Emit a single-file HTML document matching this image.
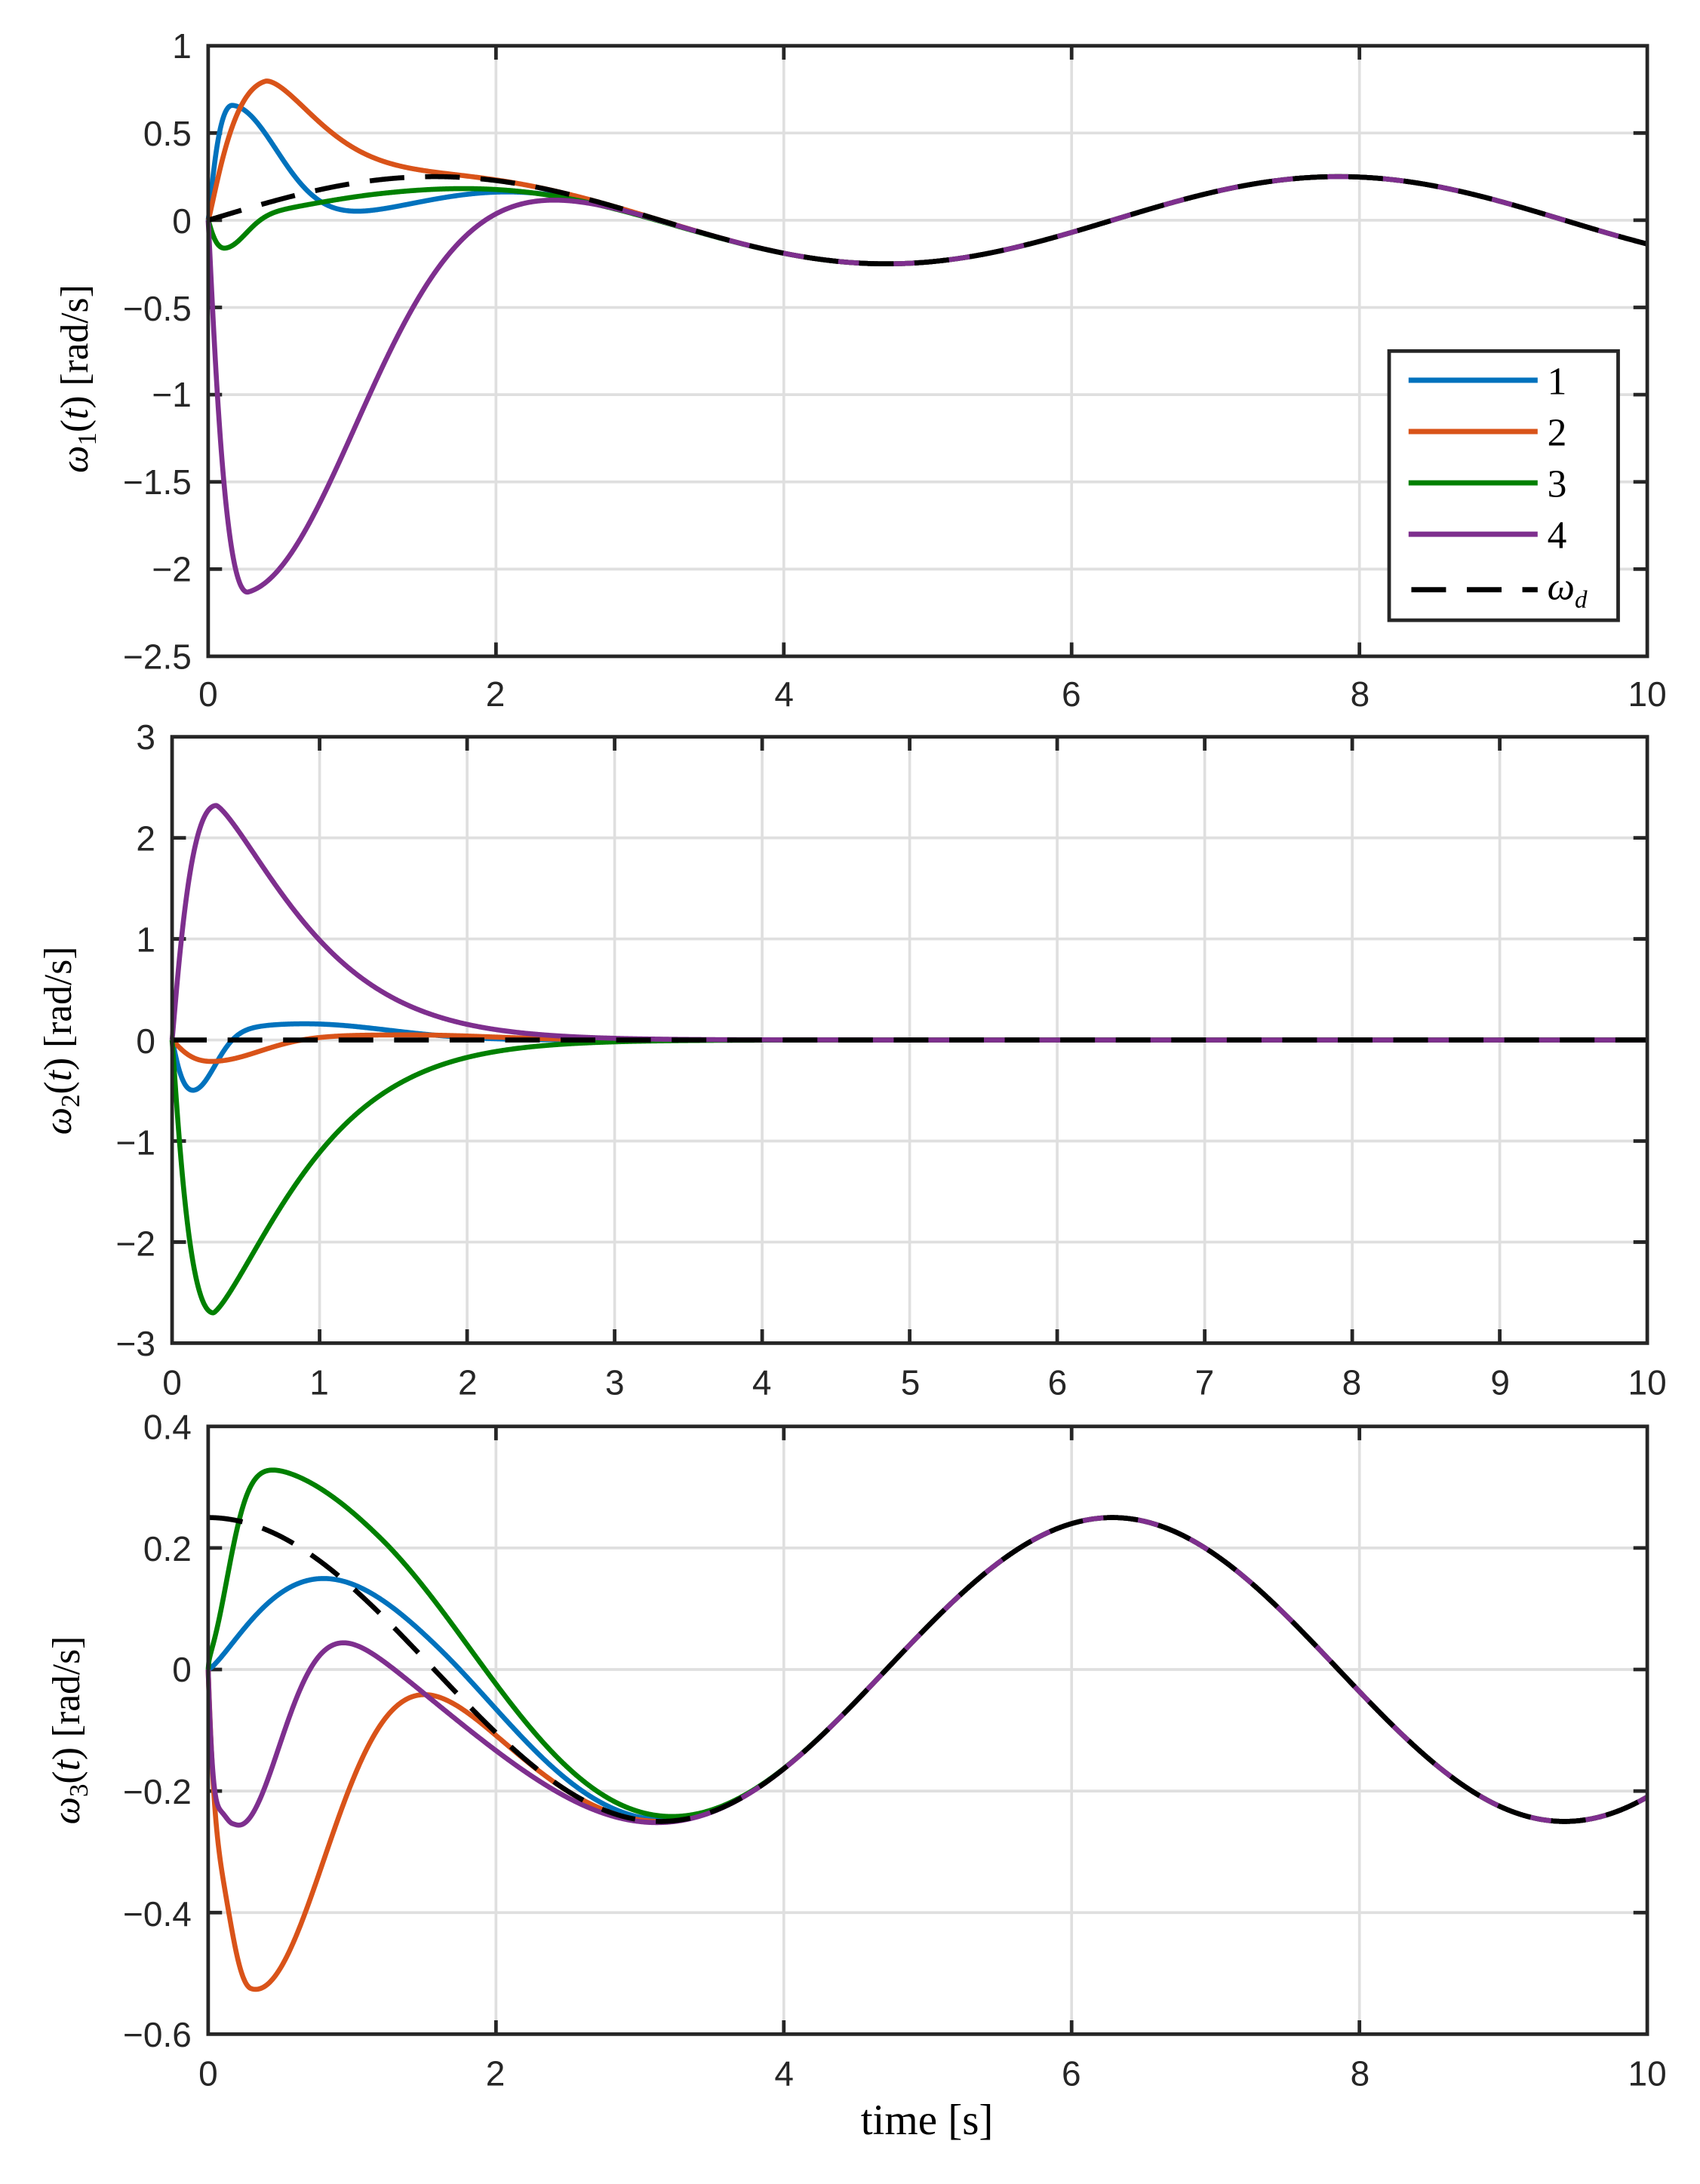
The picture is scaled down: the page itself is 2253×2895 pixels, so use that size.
<!DOCTYPE html>
<html><head><meta charset="utf-8"><style>
html,body{margin:0;padding:0;background:#fff;}
svg{display:block;}
.tk{font-family:"Liberation Sans",sans-serif;font-size:25px;fill:#262626;}
.sr{font-family:"Liberation Serif",serif;fill:#000;}
</style></head><body>
<svg id="s" xmlns="http://www.w3.org/2000/svg" width="2253" height="2895" viewBox="0 0 1225 1574" preserveAspectRatio="none">
<rect width="1225" height="1574" fill="#fff"/>
<g id="g"></g>
<g class="tk" text-anchor="end">
<text x="138" y="42">1</text><text x="138" y="105">0.5</text><text x="138" y="168">0</text>
<text x="138" y="231">−0.5</text><text x="138" y="293">−1</text><text x="138" y="356">−1.5</text>
<text x="138" y="419">−2</text><text x="138" y="482">−2.5</text>
</g>
<g class="tk" text-anchor="middle">
<text x="150" y="509">0</text><text x="357" y="509">2</text><text x="565" y="509">4</text>
<text x="772" y="509">6</text><text x="980" y="509">8</text><text x="1187" y="509">10</text>
</g>
<g class="tk" text-anchor="end">
<text x="112" y="540">3</text><text x="112" y="613">2</text><text x="112" y="686">1</text>
<text x="112" y="759">0</text><text x="112" y="832">−1</text><text x="112" y="905">−2</text><text x="112" y="977">−3</text>
</g>
<g class="tk" text-anchor="middle">
<text x="124" y="1005">0</text><text x="230" y="1005">1</text><text x="337" y="1005">2</text>
<text x="443" y="1005">3</text><text x="549" y="1005">4</text><text x="656" y="1005">5</text>
<text x="762" y="1005">6</text><text x="868" y="1005">7</text><text x="974" y="1005">8</text>
<text x="1081" y="1005">9</text><text x="1187" y="1005">10</text>
</g>
<g class="tk" text-anchor="end">
<text x="138" y="1037">0.4</text><text x="138" y="1125">0.2</text><text x="138" y="1212">0</text>
<text x="138" y="1300">−0.2</text><text x="138" y="1388">−0.4</text><text x="138" y="1475">−0.6</text>
</g>
<g class="tk" text-anchor="middle">
<text x="150" y="1503">0</text><text x="357" y="1503">2</text><text x="565" y="1503">4</text>
<text x="772" y="1503">6</text><text x="980" y="1503">8</text><text x="1187" y="1503">10</text>
</g>
<text class="sr" x="668" y="1538" font-size="31" text-anchor="middle">time [s]</text>
<text class="sr" font-size="28" text-anchor="middle" transform="translate(63,273) rotate(-90)"><tspan font-style="italic">ω</tspan><tspan font-size="19" dy="6">1</tspan><tspan dy="-6">(</tspan><tspan font-style="italic">t</tspan>) [rad/s]</text>
<text class="sr" font-size="28" text-anchor="middle" transform="translate(51,750) rotate(-90)"><tspan font-style="italic">ω</tspan><tspan font-size="19" dy="6">2</tspan><tspan dy="-6">(</tspan><tspan font-style="italic">t</tspan>) [rad/s]</text>
<text class="sr" font-size="28" text-anchor="middle" transform="translate(57,1247) rotate(-90)"><tspan font-style="italic">ω</tspan><tspan font-size="19" dy="6">3</tspan><tspan dy="-6">(</tspan><tspan font-style="italic">t</tspan>) [rad/s]</text>
<rect x="1001" y="253" width="165" height="194" fill="#fff" stroke="#262626" stroke-width="2.6"/>
<line x1="1015" y1="274" x2="1108" y2="274" stroke="#0072BD" stroke-width="3.8"/>
<line x1="1015" y1="311" x2="1108" y2="311" stroke="#D95319" stroke-width="3.8"/>
<line x1="1015" y1="348" x2="1108" y2="348" stroke="#008000" stroke-width="3.8"/>
<line x1="1015" y1="385" x2="1108" y2="385" stroke="#7E2F8E" stroke-width="3.8"/>
<line x1="1017" y1="425" x2="1108" y2="425" stroke="#000" stroke-width="3.8" stroke-dasharray="25,15"/>
<g class="sr" font-size="28">
<text x="1115" y="284">1</text><text x="1115" y="321">2</text><text x="1115" y="358">3</text><text x="1115" y="395">4</text>
<text x="1115" y="432" font-style="italic">ω<tspan font-size="18" dy="6">d</tspan></text>
</g>
</svg>
<script>
(function(){
var NS="http://www.w3.org/2000/svg",g=document.getElementById("g");
function el(n,a){var e=document.createElementNS(NS,n);for(var k in a)e.setAttribute(k,a[k]);g.appendChild(e);return e;}
function b(t,tp){return (t/tp)*Math.exp(1-t/tp);}
function bump(t,tp,pl,w,q){q=q||2;if(t<=tp)return Math.pow(b(t,tp),pl);return Math.exp(-Math.pow((t-tp)/w,q));}
var C=["#0072BD","#D95319","#008000","#7E2F8E"];
var axes=[
{x0:150,x1:1187,y0:33,y1:473,ymin:-2.5,ymax:1,xt:2,yt:0.5,
 wd:function(t){return 0.25*Math.sin(t);},
 e:[function(t){return 0.66*bump(t,.17,1.2,.45)-0.18*bump(t,1.0,1.5,1.0);},
    function(t){return 0.70*bump(t,.4,1.2,.53,1.5);},
    function(t){return -0.17*bump(t,.12,1.2,.2)-0.08*bump(t,1.2,1,1.2);},
    function(t){return -2.2*bump(t,.28,1.1,1.1);}]},
{x0:124,x1:1187,y0:531,y1:968,ymin:-3,ymax:3,xt:1,yt:1,
 wd:function(t){return 0;},
 e:[function(t){return -0.52*bump(t,.15,1.2,.2)+0.16*bump(t,.9,2,.8);},
    function(t){return -0.22*bump(t,.28,1.2,.45)+0.05*bump(t,1.6,2,.8);},
    function(t){return -2.7*bump(t,.28,1.1,.79,1.3);},
    function(t){return 2.32*bump(t,.3,1.1,.79,1.3);}]},
{x0:150,x1:1187,y0:1028,y1:1466,ymin:-0.6,ymax:0.4,xt:2,yt:0.2,
 wd:function(t){return 0.25*Math.cos(t);},
 e:[function(t){return -0.25*Math.exp(-Math.pow(t/0.6,1.3))+0.05*bump(t,1.6,2,0.9);},
    function(t){return -0.25*Math.exp(-Math.pow(t/0.1,2))-0.764*bump(t,.3,1,.75);},
    function(t){return -0.25*Math.exp(-Math.pow(t/0.2,2))+0.125*bump(t,1.2,0.5,1.2);},
    function(t){return -0.25*Math.exp(-Math.pow(t/0.08,2))-0.46*bump(t,.17,1,.45,2)-0.08*bump(t,.8,1,1.2,2);}]}
];
axes.forEach(function(a){
 function X(t){return a.x0+(a.x1-a.x0)*t/10;}
 function Y(v){return a.y1-(a.y1-a.y0)*(v-a.ymin)/(a.ymax-a.ymin);}
 var i,t,v;
 for(t=a.xt;t<10-1e-9;t+=a.xt){el("line",{x1:X(t),x2:X(t),y1:a.y0,y2:a.y1,stroke:"#dfdfdf","stroke-width":2});}
 for(v=a.ymin+a.yt;v<a.ymax-1e-9;v+=a.yt){el("line",{x1:a.x0,x2:a.x1,y1:Y(v),y2:Y(v),stroke:"#dfdfdf","stroke-width":2});}
 for(t=a.xt;t<10-1e-9;t+=a.xt){el("line",{x1:X(t),x2:X(t),y1:a.y1,y2:a.y1-10,stroke:"#262626","stroke-width":2.6});el("line",{x1:X(t),x2:X(t),y1:a.y0,y2:a.y0+10,stroke:"#262626","stroke-width":2.6});}
 for(v=a.ymin+a.yt;v<a.ymax-1e-9;v+=a.yt){el("line",{x1:a.x0,x2:a.x0+10,y1:Y(v),y2:Y(v),stroke:"#262626","stroke-width":2.6});el("line",{x1:a.x1,x2:a.x1-10,y1:Y(v),y2:Y(v),stroke:"#262626","stroke-width":2.6});}
 for(i=0;i<4;i++){var d="";for(var k=0;k<=2000;k++){t=k*0.005;v=a.wd(t)+a.e[i](t);d+=(k?"L":"M")+X(t).toFixed(2)+","+Y(v).toFixed(2);}
  el("path",{d:d,fill:"none",stroke:C[i],"stroke-width":3.6,"stroke-linejoin":"round"});}
 var d2="";for(var k2=0;k2<=2000;k2++){t=k2*0.005;d2+=(k2?"L":"M")+X(t).toFixed(2)+","+Y(a.wd(t)).toFixed(2);}
 el("path",{d:d2,fill:"none",stroke:"#000","stroke-width":3.6,"stroke-dasharray":"25,15"});
 el("rect",{x:a.x0,y:a.y0,width:a.x1-a.x0,height:a.y1-a.y0,fill:"none",stroke:"#262626","stroke-width":2.6});
});
})();
</script>
</body></html>
